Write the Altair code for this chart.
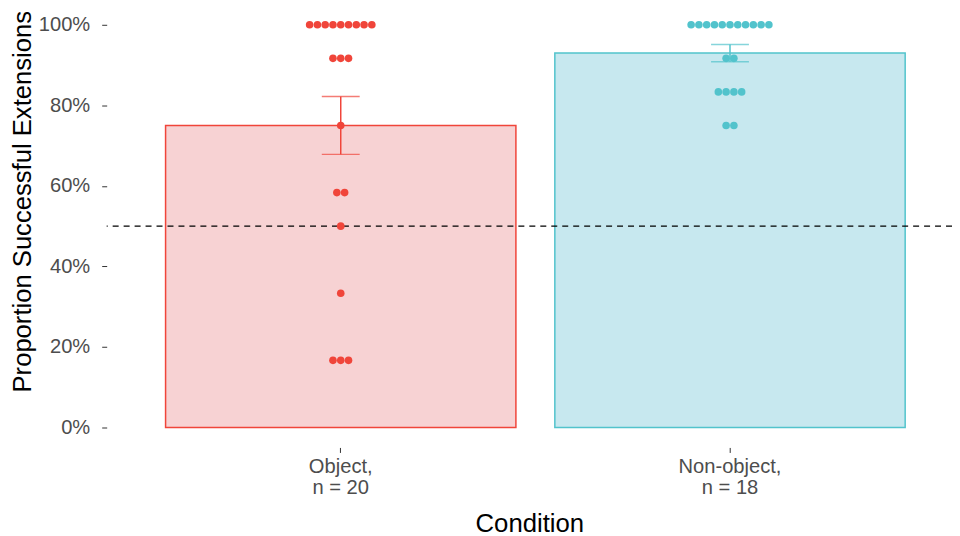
import altair as alt
import pandas as pd

# ---- data ----
conditions = ["Object", "Non-object"]
condition_labels = [["Object,", " n = 20"], ["Non-object,", " n = 18"]]
object_values = [1.0, 1.0, 1.0, 1.0, 1.0, 1.0, 1.0, 1.0, 1.0,
                 0.9167, 0.9167, 0.9167,
                 0.75,
                 0.5833, 0.5833,
                 0.5,
                 0.3333,
                 0.1667, 0.1667, 0.1667]
nonobject_values = [1.0, 1.0, 1.0, 1.0, 1.0, 1.0, 1.0, 1.0, 1.0, 1.0, 1.0,
                    0.9167, 0.9167,
                    0.8333, 0.8333, 0.8333, 0.8333,
                    0.75, 0.75]
chance_level = 0.5
y_ticks = [0, 0.2, 0.4, 0.6, 0.8, 1.0]

line_colors = ["#F0453A", "#52C3CC"]
fill_colors = ["#F7D2D3", "#C7E8EF"]

# ---- layout ----
W, H = 848, 440
P_INNER, P_OUTER, ALIGN = 0.1, 0.1358, 0.557
step = W / (len(conditions) - P_INNER + 2 * P_OUTER)
half_band = step * (1 - P_INNER) / 2

# ---- build table; horizontal dot stacking offsets (centered in band) ----
DOT_STEP = 7.8
rows = []
for cond, vals in zip(conditions, [object_values, nonobject_values]):
    counts = {}
    for v in vals:
        counts[v] = counts.get(v, 0) + 1
    seen = {}
    for v in vals:
        k = seen.get(v, 0)
        seen[v] = k + 1
        off = half_band + (k - (counts[v] - 1) / 2) * DOT_STEP
        rows.append({"cond": cond, "value": v, "off": off})
df = pd.DataFrame(rows)

label_expr = "datum.value == '%s' ? %s : %s" % (
    conditions[0], str(condition_labels[0]), str(condition_labels[1]))

y_scale = alt.Scale(domain=[-0.0495, 1.0396], nice=False, zero=False)
x_scale = alt.Scale(domain=conditions, paddingInner=P_INNER, paddingOuter=P_OUTER, align=ALIGN)
Y_TITLE = "Proportion Successful Extensions"

x_enc = alt.X("cond:N", scale=x_scale, sort=conditions,
              axis=alt.Axis(title="Condition", labelExpr=label_expr, labelAngle=0,
                            domain=False, ticks=True, tickSize=5, tickColor="#333333",
                            labelPadding=4, labelFontSize=20.2, labelLineHeight=21,
                            labelColor="#4D4D4D", titleFontSize=25.8, titleColor="#000000",
                            titlePadding=14, titleFontWeight="normal"))

y_axis = alt.Axis(values=y_ticks, format=".0%", grid=False, domain=False,
                  tickSize=5, tickColor="#333333", labelPadding=12, labelFontSize=20.2,
                  labelColor="#4D4D4D", titleFontSize=25.7, titleColor="#000000",
                  titleFontWeight="normal", titleX=-84, titleY=193,
                  titleAngle=270, titleAlign="center", titleBaseline="middle")

bars = alt.Chart(df).mark_bar(strokeWidth=1.5).encode(
    x=x_enc,
    y=alt.Y("mean(value):Q", scale=y_scale, axis=y_axis, title=Y_TITLE),
    y2=alt.datum(0),
    fill=alt.Fill("cond:N", scale=alt.Scale(domain=conditions, range=fill_colors), legend=None),
    stroke=alt.Stroke("cond:N", scale=alt.Scale(domain=conditions, range=line_colors), legend=None),
)

hline = alt.Chart(pd.DataFrame({"y": [chance_level]})).mark_rule(
    color="black", strokeWidth=1.3, strokeDash=[6, 5]
).encode(y=alt.Y("y:Q", scale=y_scale, title=Y_TITLE))

dots = alt.Chart(df).mark_circle(size=58, opacity=1).encode(
    x=alt.X("cond:N", scale=x_scale, sort=conditions),
    xOffset=alt.XOffset("off:Q", scale=None),
    y=alt.Y("value:Q", scale=y_scale, title=Y_TITLE),
    color=alt.Color("cond:N", scale=alt.Scale(domain=conditions, range=line_colors), legend=None),
)

err_base = alt.Chart(df).transform_aggregate(
    m="mean(value)", se="stderr(value)", groupby=["cond"]
).transform_calculate(lo="datum.m - datum.se", hi="datum.m + datum.se")

err_rule = err_base.mark_rule(strokeWidth=1.5).encode(
    x=alt.X("cond:N", scale=x_scale, sort=conditions),
    y=alt.Y("lo:Q", scale=y_scale, title=Y_TITLE),
    y2="hi:Q",
    color=alt.Color("cond:N", scale=alt.Scale(domain=conditions, range=line_colors), legend=None),
)
err_lo = err_base.mark_tick(size=38, thickness=1.5).encode(
    x=alt.X("cond:N", scale=x_scale, sort=conditions),
    y=alt.Y("lo:Q", scale=y_scale, title=Y_TITLE),
    color=alt.Color("cond:N", scale=alt.Scale(domain=conditions, range=line_colors), legend=None),
)
err_hi = err_base.mark_tick(size=38, thickness=1.5).encode(
    x=alt.X("cond:N", scale=x_scale, sort=conditions),
    y=alt.Y("hi:Q", scale=y_scale, title=Y_TITLE),
    color=alt.Color("cond:N", scale=alt.Scale(domain=conditions, range=line_colors), legend=None),
)

chart = alt.layer(bars, hline, dots, err_rule, err_lo, err_hi).properties(
    width=W, height=H,
    autosize=alt.AutoSizeParams(type="none"),
    padding={"left": 99, "top": 0, "right": 0, "bottom": 88},
    background="white",
).configure(font="Liberation Sans").configure_view(stroke=None, strokeWidth=0)

chart.save("out.html", embed_options={"renderer": "svg", "actions": False})
